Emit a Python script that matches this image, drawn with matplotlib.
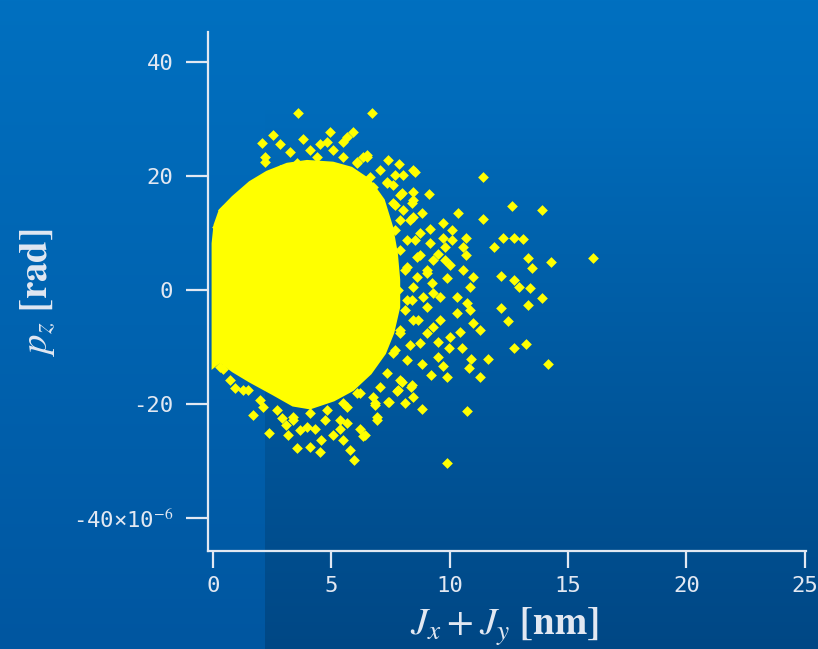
"""Phase-space scatter: p_z versus J_x + J_y on a blue slide background."""

import matplotlib

matplotlib.use("Agg")
import matplotlib.pyplot as plt
import numpy as np
from matplotlib.colors import to_rgb

# -----------------------------------------------------------------------------
# DATA
# -----------------------------------------------------------------------------

# Outline of the saturated core of the distribution (J in nm, p_z in 1e-6 rad).
CORE_J = [0.0, 0.0, 0.0, 0.0, 0.08, 0.30, 0.84, 1.56, 2.28, 3.13, 3.97, 5.07,
          5.85, 6.60, 7.20, 7.55, 7.75, 7.85, 7.85, 7.60, 7.25, 6.65, 5.90,
          5.10, 4.10, 3.38, 2.53, 1.56, 0.84, 0.30]
CORE_P = [-13.5, -8.8, 0.0, 8.2, 11.4, 14.0, 16.3, 18.9, 20.7, 22.1, 22.6,
          22.3, 21.4, 19.3, 15.8, 11.1, 6.5, 1.8, -3.0, -7.5, -11.1, -14.6,
          -17.5, -19.3, -20.7, -20.2, -18.2, -16.0, -14.2, -12.5]

# Individual particles outside the core.
HALO_J = [
    # upper fringe
    3.58, 6.73, 2.55, 2.06, 2.83, 5.90, 4.94, 2.20, 2.20, 7.40, 7.87, 8.46,
    3.81, 4.10, 4.52, 4.80, 5.50, 5.65, 5.08, 3.25, 6.35, 6.07, 6.63, 7.69,
    8.04, 7.34, 7.90,
    # right-hand tail
    6.49, 8.53, 7.61, 7.97, 8.46, 9.12, 7.69, 8.39, 8.84, 10.36, 11.39, 12.64,
    13.88, 11.39, 9.70, 10.08, 9.16, 10.67, 9.73, 10.08, 12.26, 12.71, 13.10,
    11.88, 10.57, 9.80, 9.51, 10.67, 13.31, 14.26, 16.06, 13.48, 9.80, 10.01,
    10.57, 10.99, 12.16, 12.72, 12.93, 13.39, 13.88, 13.31, 12.16, 10.85,
    10.29, 10.71, 9.59, 8.88, 9.24, 8.60, 9.02, 9.87,
    12.45, 13.21, 12.72, 14.16, 11.60, 10.92, 10.82, 11.30, 10.54, 9.97,
    10.74, 9.87, 9.51, 9.70, 9.87, 9.21, 8.84, 8.81, 8.46, 8.11, 7.97, 8.35,
    7.78, 7.43, 6.91, 6.84, 6.42, 10.99, 11.28, 10.43, 10.01, 9.51, 10.85,
    9.59, 10.29, 9.02,
    # lower fringe
    0.41, 0.93, 1.49, 1.70, 2.36, 3.08, 3.18, 3.53, 3.67, 4.10, 4.52, 4.55,
    5.08, 5.50, 5.79, 5.97, 6.21, 6.35, 6.91, 6.84, 7.40, 7.83, 8.39, 3.96,
    4.31, 5.36, 5.65, 4.73, 3.39, 2.90, 2.12,
    # dense band just outside the core
    7.69, 7.90, 8.11, 7.81, 8.11, 7.90, 7.69, 8.32, 8.53, 8.40, 8.66, 8.32,
    8.74,
    7.60, 8.02, 8.45, 7.90, 8.45, 8.74, 8.19, 9.16, 8.61, 9.29, 8.19, 9.04,
    8.45, 9.29, 8.19, 9.04, 8.45, 9.29, 7.90, 8.74, 7.60, 8.19, 7.35, 7.90,
    7.05, 6.76, 6.21, 5.66, 5.36,
    6.50, 6.08, 7.05, 6.76, 7.35, 5.49, 4.39, 3.55, 2.83, 2.28, 1.56, 1.01,
    0.42, 0.17,
    0.30, 0.72, 1.27, 1.98, 2.70, 3.38, 4.10, 4.81, 5.49, 6.08,
]
HALO_P = [
    31.0, 31.0, 27.2, 25.8, 25.6, 27.8, 27.8, 23.4, 22.5, 22.8, 22.1, 21.1,
    26.6, 24.6, 25.7, 26.0, 26.0, 26.9, 24.6, 24.3, 23.4, 22.5, 19.9, 20.2,
    20.2, 19.0, 16.7,
    23.7, 20.8, 18.4, 17.0, 17.2, 16.8, 14.9, 15.2, 13.6, 13.6, 19.9, 14.8,
    14.0, 12.5, 11.7, 10.5, 10.8, 9.2, 9.1, 8.8, 9.2, 9.2, 8.9,
    7.6, 7.6, 7.6, 6.4, 6.1, 5.7, 5.0, 5.7, 3.8, 5.3, 4.4,
    3.5, 2.3, 2.5, 1.8, 0.6, 0.3, -1.4, -2.6, -3.2, 0.6,
    -1.2, -2.3, -1.2, -1.2, 1.2, 2.3, 3.5, 2.1,
    -5.4, -9.4, -10.1, -12.9, -12.1, -12.1, -13.7, -15.3, -10.1, -10.1,
    -21.2, -30.3, -11.8, -13.3, -15.3, -14.9, -12.9, -20.8, -18.7, -19.9,
    -16.1, -17.0,
    -17.7, -19.6, -22.2, -19.9, -25.4, -5.8, -7.0, -7.3, -8.2, -9.1, -3.5,
    -5.3, -4.1, -7.6,
    -13.9, -17.2, -17.5, -21.9, -25.1, -23.7, -25.4, -27.8, -24.6, -27.5,
    -28.4, -26.3, -25.4, -26.3, -28.1, -29.8, -24.3, -25.7, -22.8, -20.2,
    -19.6, -17.5, -16.7, -24.0, -24.3, -24.3, -23.4, -22.8, -22.8, -22.5,
    -20.5,
    10.5, 7.0, 3.5, 0.0, -3.5, -7.0, -10.5, 12.3, 8.8, -1.8, -5.3, -9.6,
    6.1,
    15.3, 14.0, 15.8, 12.3, 12.8, 10.0, 8.8, 8.2, 5.8, 5.3, 4.0, 3.0,
    0.5, -0.5, -1.8, -3.0, -5.3, -6.5, -7.5, -9.3, -11.1, -12.3, -14.6, -15.8,
    -17.0, -18.8, -18.1, -20.5, -22.8,
    23.3, 22.3, 21.1, 18.1, 18.8, 23.3, 23.3, 22.3, 21.1, 19.8, 17.5, 15.8,
    14.0, 11.1,
    -13.5, -15.8, -17.5, -19.3, -21.1, -22.3, -21.6, -21.1, -19.8, -18.1,
]

X_TICKS = [0, 5, 10, 15, 20, 25]
X_TICK_LABELS = ["0", "5", "10", "15", "20", "25"]
Y_TICKS = [40, 20, 0, -20, -40]
Y_TICK_LABELS = ["40", "20", "0", "-20", "-40\u00d710$^{-6}$"]

# -----------------------------------------------------------------------------
# STYLE
# -----------------------------------------------------------------------------

BG_TOP = "#0070c0"
BG_BOTTOM = "#0056a0"
POINT_COLOR = "#ffff00"
AXIS_COLOR = "#e2e8f2"
TICK_FONT = ["DejaVu Sans Mono", "DejaVu Sans"]

plt.rcParams["mathtext.fontset"] = "stix"


def draw_background(fig):
    """Vertical blue gradient plus the darker panel on the right-hand side."""
    bg = fig.add_axes([0, 0, 1, 1], zorder=-10)
    bg.set_axis_off()
    h, w = 649, 818
    t = np.linspace(0.0, 1.0, h)[:, None]
    top = np.array(to_rgb(BG_TOP))
    bot = np.array(to_rgb(BG_BOTTOM))
    img = top[None, None, :] * (1 - t[..., None]) + bot[None, None, :] * t[..., None]
    img = np.repeat(img, w, axis=1)

    # darker rectangle starting near x = 265 px, fading in towards the bottom
    shade = np.clip((np.arange(h) - 100) / (h - 100), 0, 1) * 0.17
    img[:, 265:, :] *= (1 - shade)[:, None, None]
    bg.imshow(img, aspect="auto", extent=[0, 1, 0, 1], interpolation="bilinear")
    bg.set_xlim(0, 1)
    bg.set_ylim(0, 1)


def main() -> None:
    fig = plt.figure(figsize=(8.18, 6.49), dpi=100)
    fig.patch.set_facecolor(BG_TOP)
    draw_background(fig)

    ax = fig.add_axes([208 / 818, 98 / 649, 598 / 818, 519 / 649])
    ax.set_facecolor("none")

    ax.fill(CORE_J, CORE_P, color=POINT_COLOR, linewidth=2.0, zorder=3)
    ax.scatter(HALO_J, HALO_P, s=30, marker="D", color=POINT_COLOR,
               linewidths=0, zorder=4)

    ax.set_xlim(-0.21, 25.05)
    ax.set_ylim(-45.8, 45.3)

    for side in ("top", "right"):
        ax.spines[side].set_visible(False)
    for side in ("left", "bottom"):
        ax.spines[side].set_color(AXIS_COLOR)
        ax.spines[side].set_linewidth(1.6)

    ax.set_xticks(X_TICKS)
    ax.set_xticklabels(X_TICK_LABELS, family=TICK_FONT)
    ax.set_yticks(Y_TICKS)
    ax.set_yticklabels(Y_TICK_LABELS, family=TICK_FONT)
    ax.tick_params(axis="x", length=12, width=1.6, color=AXIS_COLOR,
                   labelcolor=AXIS_COLOR, labelsize=16, pad=6)
    ax.tick_params(axis="y", length=16, width=1.6, color=AXIS_COLOR,
                   labelcolor=AXIS_COLOR, labelsize=16, pad=9)

    ax.set_xlabel(r"$J_x + J_y\ \mathbf{[nm]}$", color=AXIS_COLOR, fontsize=28)
    ax.xaxis.set_label_coords(0.496, -0.146)
    ax.xaxis.label.set_va("center")
    ax.set_ylabel(r"$p_z\ \mathbf{[rad]}$", color=AXIS_COLOR, fontsize=28)
    ax.yaxis.set_label_coords(-0.285, 0.499)
    ax.yaxis.label.set_va("center")

    fig.savefig("out.png", dpi=100, facecolor=fig.get_facecolor())
    plt.close(fig)


if __name__ == "__main__":
    main()
